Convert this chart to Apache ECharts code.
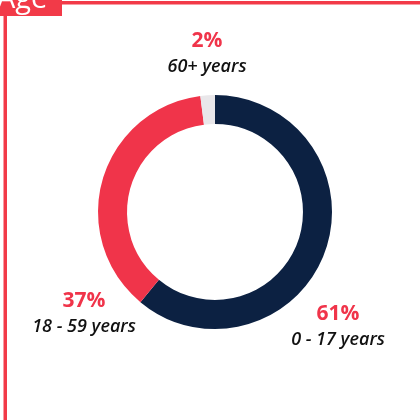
<!DOCTYPE html>
<html>
<head>
<meta charset="utf-8">
<script src="https://cdn.jsdelivr.net/npm/echarts@6/dist/echarts.min.js"></script>
<style>
  html, body { margin: 0; padding: 0; background: #fff; }
  #main { width: 420px; height: 420px; }
</style>
</head>
<body>
<div id="main"></div>
<script>
const groups = ['0 - 17 years', '18 - 59 years', '60+ years'];
const shares = [61, 37, 2];
const colors = ['#0c2142', '#f0344a', '#e9e7ea'];

// where each label block sits (centre of the two-line block)
const labelSpots = [
  { x: 338, y: 327 },
  { x: 84, y: 314 },
  { x: 207, y: 54 }
];

const chart = echarts.init(document.getElementById('main'), null, { renderer: 'canvas' });

const option = {
  backgroundColor: '#fff',
  animation: false,
  graphic: [
    { type: 'rect', shape: { x: 62, y: 1, width: 358, height: 3.5 }, style: { fill: '#f23a48' } },
    { type: 'rect', shape: { x: 3.5, y: 14, width: 3.5, height: 406 }, style: { fill: '#f23a48' } },
    { type: 'rect', shape: { x: 0, y: 0, width: 62, height: 16 }, style: { fill: '#f23a48' } },
    {
      type: 'text',
      left: -3, top: -15,
      style: { text: 'Age', fill: '#fff', font: '29px "Open Sans"' }
    }
  ],
  series: [
    {
      type: 'pie',
      center: [215, 212],
      radius: [88, 117],
      startAngle: 90,
      clockwise: true,
      silent: true,
      data: groups.map((g, i) => ({
        name: g,
        value: shares[i],
        itemStyle: { color: colors[i] }
      })),
      label: {
        show: true,
        position: 'outside',
        overflow: 'none',
        alignTo: 'none',
        formatter: p => '{p|' + p.value + '%}\n{n|' + p.name + '}',
        align: 'center',
        rich: {
          p: {
            fontFamily: 'Open Sans',
            fontWeight: 'bold',
            fontSize: 21,
            color: '#f0344a',
            lineHeight: 25,
            align: 'center'
          },
          n: {
            fontFamily: 'Open Sans',
            fontStyle: 'italic',
            fontWeight: 600,
            fontSize: 18,
            color: '#111',
            lineHeight: 25,
            align: 'center'
          }
        }
      },
      labelLine: { show: false },
      labelLayout: function (params) {
        const s = labelSpots[params.dataIndex];
        return { x: s.x, y: s.y, align: 'center', verticalAlign: 'middle' };
      }
    }
  ]
};

chart.setOption(option);
</script>
</body>
</html>
